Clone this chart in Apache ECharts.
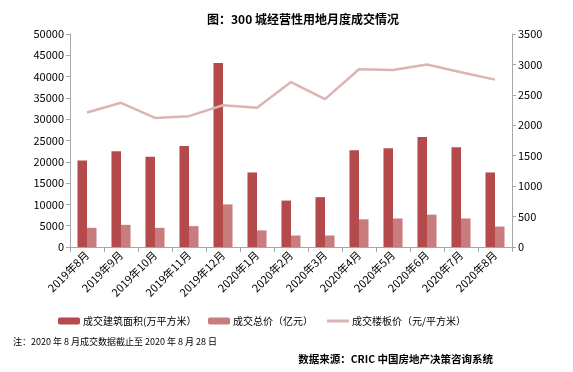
<!DOCTYPE html>
<html><head><meta charset="utf-8">
<script src="https://cdn.jsdelivr.net/npm/echarts@6/dist/echarts.min.js"></script>
<style>html,body{margin:0;padding:0;background:#fff}#c{width:573px;height:372px}</style>
</head><body><div id="c"></div>
<script>
const categories = ['2019年8月','2019年9月','2019年10月','2019年11月','2019年12月','2020年1月','2020年2月','2020年3月','2020年4月','2020年5月','2020年6月','2020年7月','2020年8月'];
const areaValues = [20300,22500,21200,23700,43200,17500,10900,11700,22700,23200,25800,23400,17500];
const totalValues = [4500,5200,4500,4900,10000,3900,2700,2700,6500,6700,7600,6700,4800];
const priceValues = [2210,2370,2120,2150,2330,2290,2710,2430,2920,2910,3000,2870,2750];
const seriesNames = ['成交建筑面积(万平方米）','成交总价（亿元）','成交楼板价（元/平方米）'];
const titleText = '图：300 城经营性用地月度成交情况';
const noteText = '注：2020 年 8 月成交数据截止至 2020 年 8 月 28 日';
const sourceText = '数据来源：CRIC 中国房地产决策咨询系统';

const font = '"Noto Sans CJK SC", "Liberation Sans", sans-serif';
const chart = echarts.init(document.getElementById('c'));
const legendBase = {top: 311, itemWidth: 22, itemHeight: 7, itemGap: 0,
  textStyle: {fontSize: 10, color: '#000', fontFamily: font, padding: [0,0,0,-2]}};
chart.setOption({
  animation: false,
  textStyle: {fontFamily: font},
  title: [
    {text: titleText, left: 298, top: 8, textAlign: 'center',
     textStyle: {fontSize: 12, fontWeight: 'bold', color: '#000', fontFamily: font}},
  ],
  graphic: [
    {type: 'text', left: 13, top: 337, style: {text: noteText, fontSize: 9, fill: '#000', fontFamily: font}},
    {type: 'text', right: 80, top: 354, style: {text: sourceText, fontSize: 10.5, fontWeight: 'bold', fill: '#000', fontFamily: font}}
  ],
  legend: [
    Object.assign({}, legendBase, {left: 53, data: [seriesNames[0]]}),
    Object.assign({}, legendBase, {left: 203, data: [seriesNames[1]]}),
    Object.assign({}, legendBase, {left: 322, itemHeight: 3, data: [{name: seriesNames[2], icon: 'rect'}]})
  ],
  grid: {left: 70, right: 61, top: 34, bottom: 125},
  xAxis: {
    type: 'category', data: categories,
    axisLine: {lineStyle: {color: '#A6A6A6'}},
    axisTick: {show: true, length: 5, lineStyle: {color: '#A6A6A6'}},
    axisLabel: {rotate: 45, fontSize: 11, color: '#000', margin: 6, interval: 0}
  },
  yAxis: [
    {type: 'value', min: 0, max: 50000, interval: 5000,
     splitLine: {show: false},
     axisLine: {show: true, lineStyle: {color: '#A6A6A6'}},
     axisTick: {show: true, length: 4, lineStyle: {color: '#A6A6A6'}},
     axisLabel: {fontSize: 11, color: '#000', margin: 6, formatter: v => String(v)}},
    {type: 'value', min: 0, max: 3500, interval: 500,
     splitLine: {show: false},
     axisLine: {show: true, lineStyle: {color: '#A6A6A6'}},
     axisTick: {show: true, length: 4, lineStyle: {color: '#A6A6A6'}},
     axisLabel: {fontSize: 11, color: '#000', margin: 6, formatter: v => String(v)}}
  ],
  series: [
    {name: seriesNames[0], type: 'bar', data: areaValues, yAxisIndex: 0,
     barGap: '0%', barCategoryGap: '44%',
     itemStyle: {color: '#B44A4B'}},
    {name: seriesNames[1], type: 'bar', data: totalValues, yAxisIndex: 0,
     itemStyle: {color: '#C97C7D'}},
    {name: seriesNames[2], type: 'line', data: priceValues, yAxisIndex: 1,
     symbol: 'none', lineStyle: {width: 2.5, color: '#DDB4B4'}, itemStyle: {color: '#DDB4B4'}}
  ]
});
</script></body></html>
